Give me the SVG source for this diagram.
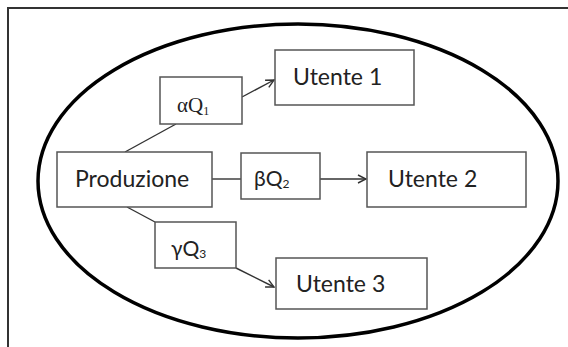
<svg xmlns="http://www.w3.org/2000/svg" width="568" height="347" viewBox="0 0 568 347">
  <defs>
    <marker id="arrow" viewBox="0 0 10 10" refX="9" refY="5" markerWidth="10" markerHeight="10" markerUnits="userSpaceOnUse" orient="auto">
      <path d="M1,1 L9,5 L1,9" fill="none" stroke="#333" stroke-width="1.4"/>
    </marker>
  </defs>
  <style>
    .frame { fill: none; stroke: #333; stroke-width: 2; }
    .boundary { fill: none; stroke: #000; stroke-width: 3.5; }
    .box { fill: #fff; stroke: #555; stroke-width: 1.5; }
    .link { fill: none; stroke: #333; stroke-width: 1.4; }
    .label { font-family: Lato, "Liberation Sans", sans-serif; font-size: 23px; fill: #222; }
    .qty { font-family: Lato, "Liberation Sans", sans-serif; font-size: 21px; fill: #222; }
    .qty-serif { font-family: "Liberation Serif", serif; font-size: 21px; fill: #222; }
    .sub { font-size: 12px; }
  </style>

  <rect width="568" height="347" fill="#fff"/>
  <path class="frame" d="M8,347 V8 H568"/>

  <!-- system boundary -->
  <ellipse class="boundary" cx="298" cy="181" rx="260" ry="157"/>

  <g id="connectors">
    <line class="link" x1="125" y1="152" x2="176" y2="124"/>
    <line class="link" x1="242" y1="97" x2="274" y2="80" marker-end="url(#arrow)"/>
    <line class="link" x1="212" y1="179" x2="241" y2="179"/>
    <line class="link" x1="320" y1="179" x2="366" y2="179" marker-end="url(#arrow)"/>
    <line class="link" x1="127" y1="207" x2="155" y2="222"/>
    <line class="link" x1="236" y1="268" x2="274" y2="287" marker-end="url(#arrow)"/>
  </g>

  <g id="produzione">
    <rect class="box" x="57" y="152" width="155" height="55"/>
    <text class="label" x="75" y="187">Produzione</text>
  </g>

  <g id="alpha-q1">
    <rect class="box" x="160" y="77" width="82" height="47"/>
    <text class="qty-serif" x="177" y="112">αQ<tspan class="sub" dy="3">1</tspan></text>
  </g>

  <g id="beta-q2">
    <rect class="box" x="241" y="153" width="79" height="46"/>
    <text class="qty" x="254" y="186">βQ<tspan class="sub" dy="2">2</tspan></text>
  </g>

  <g id="gamma-q3">
    <rect class="box" x="155" y="222" width="81" height="46"/>
    <text class="qty" x="171" y="256">γQ<tspan class="sub" dy="2">3</tspan></text>
  </g>

  <g id="utente-1">
    <rect class="box" x="275" y="50" width="139" height="55"/>
    <text class="label" x="293" y="85">Utente 1</text>
  </g>

  <g id="utente-2">
    <rect class="box" x="367" y="152" width="159" height="55"/>
    <text class="label" x="388" y="187">Utente 2</text>
  </g>

  <g id="utente-3">
    <rect class="box" x="276" y="258" width="151" height="51"/>
    <text class="label" x="296" y="292">Utente 3</text>
  </g>
</svg>
